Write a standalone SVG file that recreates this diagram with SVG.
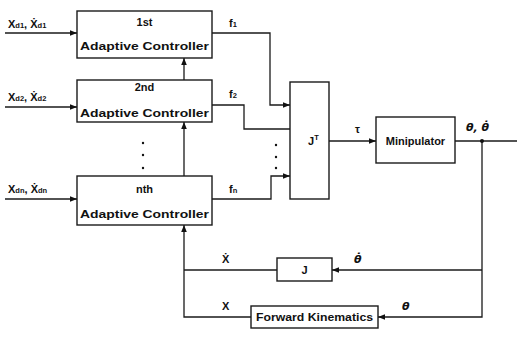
<svg xmlns="http://www.w3.org/2000/svg" width="517" height="337" viewBox="0 0 517 337">
<defs>
<style>
.box{fill:#fff;stroke:#1a1a1a;stroke-width:1.4}
.ln{fill:none;stroke:#1a1a1a;stroke-width:1.3}
.t{font-family:"Liberation Sans",Arial,sans-serif;font-weight:bold;font-size:11px;fill:#111}
.lb{font-family:"Liberation Sans",Arial,sans-serif;font-weight:bold;font-size:11px;fill:#111}
.sub{font-size:7.5px}
.it{font-family:"DejaVu Sans",sans-serif;font-style:oblique;font-weight:bold;font-size:11px;fill:#111}
.dot{fill:#111}
</style>
<marker id="ah" viewBox="0 0 10 10" refX="10" refY="5" markerWidth="7" markerHeight="7" markerUnits="userSpaceOnUse" orient="auto">
<path d="M0,1 L10,5 L0,9 z" fill="#111"/>
</marker>
</defs>

<g id="connectors">
<path class="ln" d="M5,33 H77" marker-end="url(#ah)"/>
<path class="ln" d="M5,107 H77" marker-end="url(#ah)"/>
<path class="ln" d="M5,199 H77" marker-end="url(#ah)"/>
<path class="ln" d="M184,80 V58" marker-end="url(#ah)"/>
<path class="ln" d="M184,176 V122" marker-end="url(#ah)"/>
<path class="ln" d="M212,33 H270 V105 H290" marker-end="url(#ah)"/>
<path class="ln" d="M212,105 H244 V129 H290"/>
<path class="ln" d="M212,199 H271 V176 H290" marker-end="url(#ah)"/>
<path class="ln" d="M329,141 H376" marker-end="url(#ah)"/>
<path class="ln" d="M455,141 H517"/>
<path class="ln" d="M482,141 V317 H378" marker-end="url(#ah)"/>
<path class="ln" d="M482,270 H332" marker-end="url(#ah)"/>
<path class="ln" d="M277,270 H184"/>
<path class="ln" d="M251,317 H184 V225" marker-end="url(#ah)"/>
<circle class="dot" cx="482" cy="141" r="2"/>
<circle class="dot" cx="143" cy="143" r="1.2"/>
<circle class="dot" cx="143" cy="155" r="1.2"/>
<circle class="dot" cx="143" cy="168" r="1.2"/>
<circle class="dot" cx="276" cy="145" r="1.2"/>
<circle class="dot" cx="276" cy="157" r="1.2"/>
<circle class="dot" cx="276" cy="168" r="1.2"/>
</g>

<g id="ctrl1">
<rect class="box" x="77" y="11" width="135" height="47"/>
<text class="t" x="144.5" y="26" text-anchor="middle">1st</text>
<text class="t" x="80" y="50" textLength="129" lengthAdjust="spacingAndGlyphs">Adaptive Controller</text>
</g>
<g id="ctrl2">
<rect class="box" x="77" y="80" width="135" height="42"/>
<text class="t" x="144.5" y="91" text-anchor="middle">2nd</text>
<text class="t" x="80" y="117" textLength="129" lengthAdjust="spacingAndGlyphs">Adaptive Controller</text>
</g>
<g id="ctrln">
<rect class="box" x="77" y="176" width="135" height="49"/>
<text class="t" x="144.5" y="193" text-anchor="middle">nth</text>
<text class="t" x="80" y="218" textLength="129" lengthAdjust="spacingAndGlyphs">Adaptive Controller</text>
</g>
<g id="jt">
<rect class="box" x="290" y="82" width="39" height="117"/>
<text class="t" x="308" y="145">J<tspan class="sub" dy="-5">T</tspan></text>
</g>
<g id="mani">
<rect class="box" x="376" y="117" width="79" height="46"/>
<text class="t" x="415.5" y="145" text-anchor="middle">Minipulator</text>
</g>
<g id="jac">
<rect class="box" x="277" y="258" width="55" height="23"/>
<text class="t" x="304.5" y="274" text-anchor="middle">J</text>
</g>
<g id="fk">
<rect class="box" x="251" y="306" width="127" height="22"/>
<text class="t" x="314.5" y="321" text-anchor="middle" textLength="117" lengthAdjust="spacingAndGlyphs">Forward Kinematics</text>
</g>

<g id="labels">
<text class="lb" x="8" y="28">X<tspan class="sub">d1</tspan>, X&#775;<tspan class="sub">d1</tspan></text>
<text class="lb" x="8" y="101">X<tspan class="sub">d2</tspan>, X&#775;<tspan class="sub">d2</tspan></text>
<text class="lb" x="8" y="193">X<tspan class="sub">dn</tspan>, X&#775;<tspan class="sub">dn</tspan></text>
<text class="lb" x="229" y="27">f<tspan class="sub">1</tspan></text>
<text class="lb" x="229" y="98">f<tspan class="sub">2</tspan></text>
<text class="lb" x="229" y="193">f<tspan class="sub">n</tspan></text>
<text class="lb" x="355" y="133">τ</text>
<text class="it" x="466" y="131">θ, θ&#775;</text>
<text class="lb" x="222" y="263">X&#775;</text>
<text class="it" x="354" y="263">θ&#775;</text>
<text class="lb" x="222" y="310">X</text>
<text class="it" x="402" y="310">θ</text>
</g>
</svg>
